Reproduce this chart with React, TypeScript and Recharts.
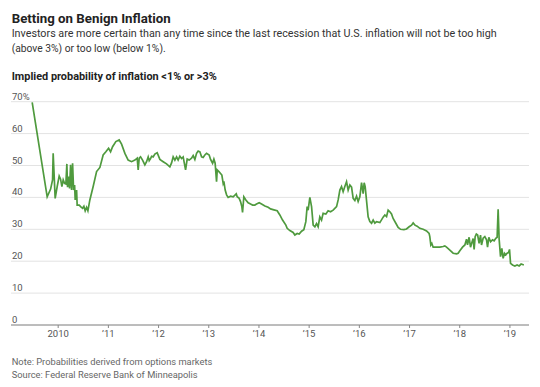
import { LineChart, Line, XAxis, YAxis, CartesianGrid } from "recharts";

// decimal year of each observation
const years = [
  2009.482, 2009.781, 2009.849, 2009.888, 2009.9, 2009.94, 2009.98, 2010.02, 2010.048, 2010.074,
  2010.1, 2010.127, 2010.153, 2010.173, 2010.187, 2010.207, 2010.227, 2010.247, 2010.267, 2010.287,
  2010.307, 2010.327, 2010.339, 2010.367, 2010.378, 2010.418, 2010.446, 2010.486, 2010.512, 2010.538,
  2010.566, 2010.592, 2010.631, 2010.697, 2010.765, 2010.831, 2010.896, 2010.95, 2011.004, 2011.044,
  2011.084, 2011.149, 2011.215, 2011.263, 2011.329, 2011.394, 2011.462, 2011.528, 2011.574, 2011.594,
  2011.614, 2011.641, 2011.681, 2011.727, 2011.761, 2011.793, 2011.813, 2011.841, 2011.861, 2011.892,
  2011.926, 2011.972, 2012.026, 2012.092, 2012.159, 2012.225, 2012.259, 2012.291, 2012.325, 2012.359,
  2012.39, 2012.424, 2012.458, 2012.49, 2012.538, 2012.57, 2012.61, 2012.657, 2012.689, 2012.723,
  2012.757, 2012.789, 2012.823, 2012.857, 2012.888, 2012.922, 2012.956, 2013.008, 2013.036, 2013.076,
  2013.102, 2013.127, 2013.155, 2013.169, 2013.207, 2013.235, 2013.261, 2013.287, 2013.301, 2013.327,
  2013.355, 2013.386, 2013.434, 2013.486, 2013.548, 2013.566, 2013.606, 2013.633, 2013.659, 2013.673,
  2013.699, 2013.739, 2013.785, 2013.833, 2013.873, 2013.918, 2013.952, 2014.004, 2014.052, 2014.118,
  2014.183, 2014.231, 2014.297, 2014.363, 2014.416, 2014.47, 2014.536, 2014.562, 2014.616, 2014.681,
  2014.715, 2014.761, 2014.801, 2014.849, 2014.894, 2014.934, 2014.96, 2014.98, 2015.014, 2015.048,
  2015.08, 2015.114, 2015.147, 2015.179, 2015.213, 2015.247, 2015.279, 2015.333, 2015.378, 2015.426,
  2015.478, 2015.546, 2015.578, 2015.612, 2015.645, 2015.677, 2015.711, 2015.745, 2015.777, 2015.811,
  2015.845, 2015.877, 2015.911, 2015.944, 2015.976, 2016.01, 2016.044, 2016.076, 2016.096, 2016.116,
  2016.175, 2016.209, 2016.243, 2016.275, 2016.309, 2016.343, 2016.409, 2016.474, 2016.508, 2016.542,
  2016.574, 2016.608, 2016.641, 2016.673, 2016.727, 2016.773, 2016.821, 2016.888, 2016.94, 2016.992,
  2017.04, 2017.072, 2017.108, 2017.151, 2017.205, 2017.271, 2017.339, 2017.39, 2017.404, 2017.424,
  2017.444, 2017.47, 2017.538, 2017.604, 2017.669, 2017.703, 2017.737, 2017.803, 2017.869, 2017.937,
  2017.968, 2018.002, 2018.056, 2018.102, 2018.135, 2018.155, 2018.187, 2018.215, 2018.241, 2018.267,
  2018.287, 2018.307, 2018.331, 2018.357, 2018.386, 2018.414, 2018.434, 2018.466, 2018.5, 2018.534,
  2018.554, 2018.58, 2018.614, 2018.653, 2018.685, 2018.719, 2018.745, 2018.765, 2018.785, 2018.813,
  2018.839, 2018.865, 2018.892, 2018.918, 2018.944, 2018.972, 2018.992, 2019.012, 2019.052, 2019.098,
  2019.143, 2019.183, 2019.223, 2019.277,
];

// implied probability of inflation <1% or >3%, percent
const probability = [
  69.8, 40.2, 42.6, 45.5, 53.8, 39.7, 43.4, 46.7, 45.7, 43.4,
  45.5, 44.4, 44.2, 50.5, 43.2, 46.5, 42.8, 50.2, 42.3, 50.7,
  42.3, 43.9, 39.2, 42.3, 37.6, 37.6, 37.1, 36.6, 37.2, 35.8,
  36.9, 35.8, 39.2, 43.4, 48.1, 49.4, 53.3, 54.3, 55.4, 54.3,
  55.9, 57.5, 58.0, 56.7, 53.8, 51.7, 51.2, 51.7, 52.3, 48.6,
  52.3, 52.7, 51.7, 50.2, 51.2, 52.7, 51.5, 52.2, 52.9, 52.7,
  53.6, 54.0, 51.9, 51.2, 50.5, 49.6, 50.8, 52.7, 51.7, 52.7,
  51.7, 52.9, 52.2, 52.7, 48.6, 52.0, 51.7, 52.3, 53.1, 51.9,
  53.8, 54.5, 54.3, 52.7, 52.5, 53.3, 53.8, 53.3, 51.9, 50.7,
  52.0, 50.7, 44.9, 48.6, 48.0, 47.5, 47.0, 44.4, 45.0, 42.3,
  40.8, 40.0, 40.4, 40.2, 41.1, 40.2, 39.7, 38.7, 37.1, 35.3,
  40.2, 39.2, 38.3, 37.9, 37.6, 37.6, 37.9, 38.3, 37.9, 37.3,
  36.9, 36.4, 36.1, 35.8, 34.5, 32.9, 31.3, 30.3, 29.6, 29.0,
  28.2, 28.7, 28.5, 29.4, 29.9, 32.4, 37.1, 36.0, 40.0, 37.1,
  31.3, 30.8, 31.8, 30.8, 33.9, 32.9, 35.0, 34.8, 35.8, 35.5,
  36.0, 37.1, 39.2, 42.3, 43.4, 41.8, 43.4, 44.9, 42.3, 43.9,
  43.2, 39.7, 39.0, 40.4, 38.7, 40.2, 44.6, 41.2, 44.6, 43.4,
  33.9, 32.4, 31.9, 32.9, 31.9, 32.4, 32.1, 33.8, 34.5, 34.0,
  36.0, 35.5, 34.8, 33.4, 31.9, 30.6, 30.0, 29.9, 30.1, 30.8,
  31.3, 32.0, 31.3, 31.0, 30.3, 30.0, 29.5, 28.7, 27.7, 25.1,
  25.6, 24.4, 24.4, 24.4, 24.6, 24.8, 24.4, 23.5, 22.5, 22.3,
  22.5, 23.3, 24.4, 25.1, 26.9, 25.1, 27.5, 24.4, 25.8, 27.1,
  23.7, 27.7, 28.5, 28.2, 25.6, 28.2, 25.1, 27.2, 27.7, 26.7,
  24.4, 27.5, 26.1, 26.7, 26.4, 27.2, 27.5, 36.3, 26.9, 21.4,
  24.0, 20.9, 22.5, 22.0, 22.5, 22.7, 23.7, 19.3, 18.8, 18.5,
  18.8, 18.5, 19.1, 18.8,
];

const yearTicks = [2010, 2011, 2012, 2013, 2014, 2015, 2016, 2017, 2018, 2019];
const percentTicks = [0, 10, 20, 30, 40, 50, 60, 70];

const data = years.map((t, i) => ({ t, p: probability[i] }));

const FONT = "Roboto, 'Noto Sans', sans-serif";

const yearLabel = (v: number) => (v === 2010 ? "2010" : "\u2019" + String(v).slice(2));

const renderPercentTick = (props: any) => {
  const { y, payload, index } = props;
  const v = payload.value;
  return (
    <text key={index} x={12} y={y - 2} fontSize={9.5} fill="#555" fontFamily={FONT} textAnchor="start">
      {v === 70 ? "70%" : String(v)}
    </text>
  );
};

const Texts = () => (
  <svg
    width={540}
    height={387}
    style={{ position: "absolute", left: 0, top: 0, pointerEvents: "none" }}
    fontFamily={FONT}
  >
    <text x={11.7} y={22.7} fontSize={12.5} fontWeight={700} fill="#222" textLength={159} lengthAdjust="spacingAndGlyphs">
      Betting on Benign Inflation
    </text>
    <text x={11.7} y={36.7} fontSize={10.5} fill="#333" textLength={485} lengthAdjust="spacingAndGlyphs">
      Investors are more certain than any time since the last recession that U.S. inflation will not be too high
    </text>
    <text x={11.7} y={52.2} fontSize={10.5} fill="#333" textLength={154} lengthAdjust="spacingAndGlyphs">
      (above 3%) or too low (below 1%).
    </text>
    <text x={11.7} y={80} fontSize={10.5} fontWeight={700} fill="#222" textLength={205} lengthAdjust="spacingAndGlyphs">
      Implied probability of inflation &lt;1% or &gt;3%
    </text>
    <text x={11.7} y={365} fontSize={9} fill="#666" textLength={200.6} lengthAdjust="spacingAndGlyphs">
      Note: Probabilities derived from options markets
    </text>
    <text x={11.7} y={377.7} fontSize={9} fill="#666" textLength={186} lengthAdjust="spacingAndGlyphs">
      Source: Federal Reserve Bank of Minneapolis
    </text>
  </svg>
);

export default function App() {
  return (
    <div style={{ position: "absolute", left: 0, top: 0, width: 540, height: 387, background: "#fff" }}>
      <LineChart width={540} height={387} data={data} margin={{ top: 101.7, right: 11, bottom: 0, left: 10 }}>
        <CartesianGrid vertical={false} stroke="#e3e3e3" strokeWidth={1} />
        <XAxis
          dataKey="t"
          type="number"
          domain={[2009.06, 2019.38]}
          ticks={yearTicks}
          tickFormatter={yearLabel}
          height={62}
          tickSize={3}
          tickMargin={2}
          axisLine={{ stroke: "#888" }}
          tickLine={{ stroke: "#888" }}
          tick={{ fontSize: 9.5, fill: "#555", fontFamily: FONT }}
          allowDataOverflow
        />
        <YAxis
          type="number"
          domain={[0, 70]}
          ticks={percentTicks}
          width={1}
          axisLine={false}
          tickLine={false}
          tick={renderPercentTick}
          interval={0}
          allowDataOverflow
        />
        <Line
          type="linear"
          dataKey="p"
          stroke="#4f9a3e"
          strokeWidth={1.7}
          dot={false}
          isAnimationActive={false}
        />
      </LineChart>
      <Texts />
    </div>
  );
}
